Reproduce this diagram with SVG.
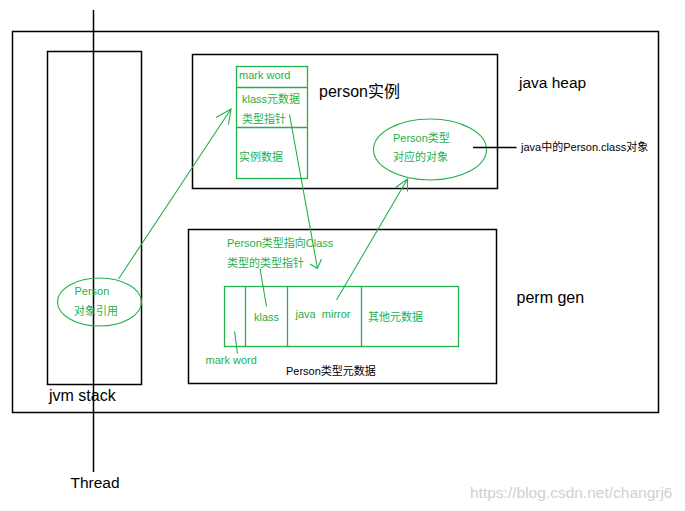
<svg xmlns="http://www.w3.org/2000/svg" width="685" height="511" viewBox="0 0 685 511">
<style>
.box{fill:none;stroke:#000;stroke-width:1.5}
.gbox{fill:none;stroke:#22b14c;stroke-width:1.3}
.gl{fill:none;stroke:#22b14c;stroke-width:1.1}
.t{font-family:"Liberation Sans","Noto Sans CJK SC",sans-serif;fill:#000}
.g{font-family:"Liberation Sans","Noto Sans CJK SC",sans-serif;fill:#22b14c;font-size:11px}
.big{font-size:16px}
.sm{font-size:11px}
</style>
<rect width="685" height="511" fill="#fff"/>
<g id="outer"><rect class="box" x="12.5" y="31.5" width="646" height="381"/></g>
<g id="jvm-stack">
<rect class="box" x="47.5" y="51.5" width="94" height="333"/>
<text class="t big" x="49" y="401">jvm stack</text>
</g>
<g id="java-heap">
<rect class="box" x="192.5" y="54.5" width="305" height="134"/>
<text class="t big" x="319" y="97">person实例</text>
<text class="t" font-size="15.5" x="519" y="88">java heap</text>
</g>
<g id="perm-gen">
<rect class="box" x="188.5" y="229.5" width="308" height="154"/>
<text class="t big" x="516.5" y="303">perm gen</text>
</g>
<g id="thread">
<line x1="93.5" y1="10" x2="93.5" y2="472" stroke="#000" stroke-width="1.5"/>
<text class="t" font-size="15.5" x="70.5" y="488">Thread</text>
</g>
<g id="person-instance">
<rect class="gbox" x="236.5" y="66.5" width="71" height="112"/>
<line class="gbox" x1="236.5" y1="87.5" x2="307.5" y2="87.5"/>
<line class="gbox" x1="236.5" y1="127.5" x2="307.5" y2="127.5"/>
<text class="g" font-size="11.5" x="239" y="79">mark word</text>
<text class="g" x="242" y="103">klass元数据</text>
<text class="g" x="242" y="123">类型指针</text>
<text class="g" x="239" y="161">实例数据</text>
</g>
<g id="person-class-object">
<ellipse class="gl" cx="430" cy="149.5" rx="56.5" ry="30.5"/>
<text class="g" x="393" y="142">Person类型</text>
<text class="g" x="393" y="161">对应的对象</text>
</g>
<g id="class-object-label">
<line x1="473" y1="147.5" x2="516.5" y2="147.5" stroke="#000" stroke-width="1.3"/>
<text class="t sm" x="521" y="151">java中的Person.class对象</text>
</g>
<g id="person-ref">
<ellipse class="gl" cx="99.5" cy="302" rx="42" ry="24"/>
<text class="g" x="74.5" y="295">Person</text>
<text class="g" x="74" y="315">对象引用</text>
</g>
<g id="person-metadata">
<rect class="gbox" x="224.5" y="286.5" width="234" height="60"/>
<line class="gbox" x1="245.5" y1="286.5" x2="245.5" y2="346.5"/>
<line class="gbox" x1="287.5" y1="286.5" x2="287.5" y2="346.5"/>
<line class="gbox" x1="361.5" y1="286.5" x2="361.5" y2="346.5"/>
<text class="g" x="254" y="321">klass</text>
<text class="g" x="295.5" y="318" xml:space="preserve">java  mirror</text>
<text class="g" x="368" y="321">其他元数据</text>
<text class="g" x="227" y="246.5">Person类型指向Class</text>
<text class="g" x="227" y="267">类型的类型指针</text>
<text class="g" x="205.5" y="364">mark word</text>
<text class="t sm" x="286" y="375">Person类型元数据</text>
</g>
<g id="connectors">
<line class="gl" x1="260" y1="268.5" x2="266.5" y2="306.5"/>
<line class="gl" x1="234.5" y1="331.5" x2="237.5" y2="353.5"/>
<path class="gl" d="M118.5 279 L231 109 M216 117.5 L231 109 L228.5 124.5"/>
<path class="gl" d="M289.5 114.5 L317.5 268.5 M310 264 L317.5 268.5 L321.5 259"/>
<path class="gl" d="M336.5 300 L407.5 179 M395.5 187.5 L407.5 179 L407.5 191.5"/>
</g>
<text x="470" y="498" font-family="Liberation Sans,sans-serif" font-size="15.5" fill="#d0d0d0">https://blog.csdn.net/changrj6</text>
</svg>
